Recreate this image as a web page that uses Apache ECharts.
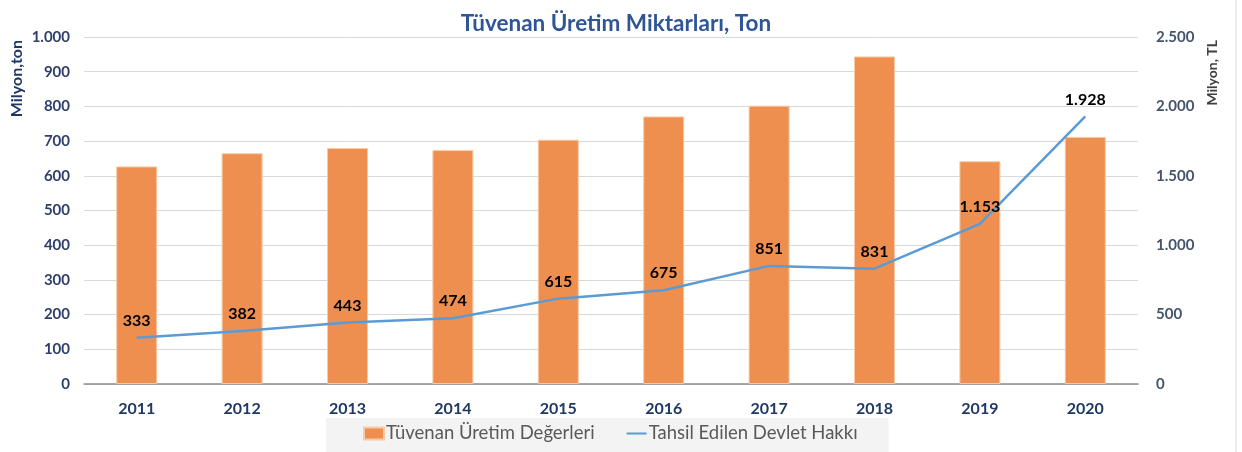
<!DOCTYPE html>
<html>
<head>
<meta charset="utf-8">
<script src="https://cdn.jsdelivr.net/npm/echarts@6/dist/echarts.min.js"></script>
<style>
  html, body { margin: 0; padding: 0; background: #fff; }
  #main { width: 1242px; height: 452px; }
</style>
</head>
<body>
<div id="main"></div>
<script>
// veriler
var years = ['2011','2012','2013','2014','2015','2016','2017','2018','2019','2020'];
var uretim = [627, 665, 680, 674, 704, 771, 802, 944, 642, 712];   // milyon ton
var devletHakki = [333, 382, 443, 474, 615, 675, 851, 831, 1153, 1928]; // milyon TL
var leftTicks = [0, 1000, 100];
var rightTicks = [0, 2500, 500];

function trNum(v) {
	return String(v).replace(/\B(?=(\d{3})+(?!\d))/g, '.');
}

var chart = echarts.init(document.getElementById('main'));
var fontFam = 'Lato, "Open Sans", sans-serif';
// ince çizgi simgesi (kutu sınırı için boş alt yollar)
var lineIcon = 'path://M0,0 L0.01,0 Z M0,5 L20,5 L20,7 L0,7 Z M0,12 L0.01,12 Z';

var option = {
	animation: false,
	textStyle: { fontFamily: fontFam },
	title: {
		text: 'Tüvenan Üretim Miktarları, Ton',
		left: 611,
		textAlign: 'center',
		top: 7,
		textStyle: { color: '#2F5597', fontSize: 22.5, fontWeight: 'bold', fontFamily: fontFam }
	},
	grid: { left: 84, right: 104, top: 37, bottom: 68 },
	legend: {
		top: 418,
		left: 326,
		itemGap: 32,
		itemWidth: 20,
		itemHeight: 12,
		padding: [6, 31, 9, 37],
		backgroundColor: '#f3f3f3',
		textStyle: { color: '#595959', fontSize: 18.5, fontFamily: fontFam, padding: [0, 0, 0, -3] },
		data: [
			{ name: 'Tüvenan Üretim Değerleri', icon: 'rect' },
			{ name: 'Tahsil Edilen Devlet Hakkı', icon: lineIcon }
		]
	},
	xAxis: {
		type: 'category',
		data: years,
		axisTick: { show: false },
		axisLine: { lineStyle: { color: '#8c8c8c', width: 1.5 } },
		axisLabel: { color: '#1F3864', fontWeight: 'bold', fontSize: 16, margin: 17 }
	},
	yAxis: [
		{
			type: 'value',
			min: leftTicks[0], max: leftTicks[1], interval: leftTicks[2],
			axisLine: { show: false },
			axisTick: { show: false },
			splitLine: { lineStyle: { color: '#d9d9d9', width: 1 } },
			axisLabel: { color: '#2E3F6B', fontWeight: 'bold', fontSize: 15, margin: 14, formatter: trNum }
		},
		{
			type: 'value',
			min: rightTicks[0], max: rightTicks[1], interval: rightTicks[2],
			axisLine: { show: false },
			axisTick: { show: false },
			splitLine: { show: false },
			axisLabel: { color: '#44546A', fontWeight: 'bold', fontSize: 15, margin: 18, formatter: trNum }
		}
	],
	series: [
		{
			name: 'Tüvenan Üretim Değerleri',
			type: 'bar',
			data: uretim,
			barWidth: 41,
			itemStyle: { color: '#EE8F4F', borderColor: '#F8C9A6', borderWidth: 1 }
		},
		{
			name: 'Tahsil Edilen Devlet Hakkı',
			type: 'line',
			yAxisIndex: 1,
			data: devletHakki,
			symbol: 'circle',
			symbolSize: 0,
			showSymbol: true,
			lineStyle: { color: '#5B9BD5', width: 2.5 },
			itemStyle: { color: '#5B9BD5' },
			label: {
				show: true,
				position: 'top',
				distance: 9,
				color: '#000',
				fontWeight: 'bold',
				fontSize: 16,
				formatter: function (p) { return trNum(p.value); }
			},
			z: 5
		}
	],
	graphic: [
		{
			type: 'text',
			left: 9, top: 40,
			rotation: Math.PI / 2,
			style: { text: 'Milyon,ton', fill: '#1F3864', font: 'bold 16px ' + fontFam }
		},
		{
			type: 'text',
			left: 1205, top: 40,
			rotation: Math.PI / 2,
			style: { text: 'Milyon, TL', fill: '#404040', font: 'bold 14px ' + fontFam }
		},
		{
			type: 'line',
			shape: { x1: 1236, y1: 0, x2: 1236, y2: 452 },
			style: { stroke: '#d9d9d9', lineWidth: 1 }
		}
	]
};
chart.setOption(option);
</script>
</body>
</html>
